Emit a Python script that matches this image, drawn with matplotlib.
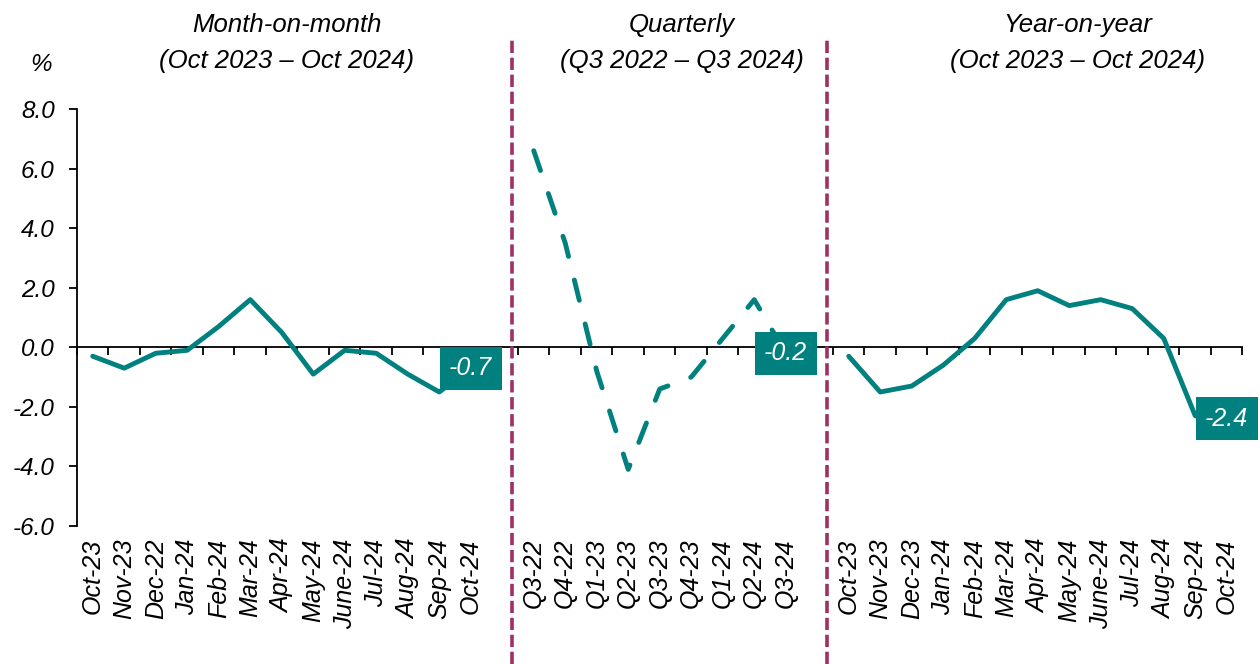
import numpy as np
import matplotlib.pyplot as plt

plt.rcParams['font.family'] = ['Liberation Sans', 'DejaVu Sans']
plt.rcParams['font.style'] = 'italic'

# data
mom_labels = ['Oct-23', 'Nov-23', 'Dec-22', 'Jan-24', 'Feb-24', 'Mar-24', 'Apr-24',
              'May-24', 'June-24', 'Jul-24', 'Aug-24', 'Sep-24', 'Oct-24']
mom = [-0.3, -0.7, -0.2, -0.1, 0.7, 1.6, 0.5, -0.9, -0.1, -0.2, -0.9, -1.5, -0.7]

q_labels = ['Q3-22', 'Q4-22', 'Q1-23', 'Q2-23', 'Q3-23', 'Q4-23', 'Q1-24', 'Q2-24', 'Q3-24']
qtr = [6.6, 3.5, -0.8, -4.1, -1.4, -1.0, 0.3, 1.6, -0.2]

yoy_labels = ['Oct-23', 'Nov-23', 'Dec-23', 'Jan-24', 'Feb-24', 'Mar-24', 'Apr-24',
              'May-24', 'June-24', 'Jul-24', 'Aug-24', 'Sep-24', 'Oct-24']
yoy = [-0.3, -1.5, -1.3, -0.6, 0.3, 1.6, 1.9, 1.4, 1.6, 1.3, 0.3, -2.3, -2.4]

titles = [('Month-on-month', '(Oct 2023 \u2013 Oct 2024)'),
          ('Quarterly', '(Q3 2022 \u2013 Q3 2024)'),
          ('Year-on-year', '(Oct 2023 \u2013 Oct 2024)')]

teal = '#00807E'
plum = '#9E3064'

# one category axis, a blank slot between each block
all_labels = mom_labels + [''] + q_labels + [''] + yoy_labels
x_mom = np.arange(len(mom))
x_q = np.arange(len(qtr)) + len(mom) + 1
x_yoy = np.arange(len(yoy)) + len(mom) + len(qtr) + 2
n = len(all_labels)

fig = plt.figure(figsize=(12.6, 6.64), dpi=100)
ax = fig.add_axes([0.0611, 0.2078, 0.9250, 0.6280])

ax.plot(x_mom, mom, color=teal, lw=3.5, solid_capstyle='round', solid_joinstyle='round', zorder=3)
ax.plot(x_q, qtr, color=teal, lw=3.5, linestyle=(0, (4.3, 5.0)),
        dash_capstyle='round', dash_joinstyle='round', zorder=3)
ax.plot(x_yoy, yoy, color=teal, lw=3.5, solid_capstyle='round', solid_joinstyle='round', zorder=3)

# value boxes on the last points
for xs, ys in [(x_mom, mom), (x_q, qtr), (x_yoy, yoy)]:
    ax.text(xs[-1], ys[-1], f'{ys[-1]:.1f}', color='white', fontsize=18,
            ha='center', va='center', zorder=5,
            bbox=dict(boxstyle='square,pad=0.38', fc=teal, ec='none'))

ax.set_xlim(-0.5, n - 0.5)
ax.set_ylim(-6, 8)
ax.set_yticks(np.arange(-6, 9, 2))
ax.set_yticklabels([f'{v:.1f}' for v in np.arange(-6, 9, 2)], fontsize=17.5)
ax.tick_params(axis='y', direction='out', length=6, width=1.3, pad=10)

for s in ['top', 'right']:
    ax.spines[s].set_visible(False)
ax.spines['left'].set_linewidth(1.3)
ax.spines['bottom'].set_position(('data', 0))
ax.spines['bottom'].set_linewidth(1.3)

# tick marks between categories on the zero line
ax.set_xticks(np.arange(n + 1) - 0.5)
ax.set_xticklabels([])
ax.tick_params(axis='x', direction='out', length=6, width=1.3)

# category labels at the bottom
sec = ax.secondary_xaxis('bottom')
sec.set_xticks(np.arange(n), all_labels, rotation=90, fontsize=18)
sec.tick_params(length=0, pad=9)
sec.spines['bottom'].set_visible(False)

# separators between the blocks
sep = [x_q[0] - 0.69, x_yoy[0] - 0.69]
for xd in sep:
    ax.axvline(xd, ymin=-0.331, ymax=1.17, color=plum, lw=2.6,
               linestyle=(0, (3.4, 1.3)), clip_on=False, zorder=4)

# block titles
title_x = [287, 682, 1078]
for (t1, t2), px in zip(titles, title_x):
    fig.text(px / 1260, 1 - 32 / 664, t1, ha='center', va='baseline', fontsize=18.5)
    fig.text(px / 1260, 1 - 68 / 664, t2, ha='center', va='baseline', fontsize=18.5)

fig.text(41 / 1260, 1 - 71 / 664, '%', ha='center', va='baseline', fontsize=17.5)

plt.savefig('out.png', dpi=100)
